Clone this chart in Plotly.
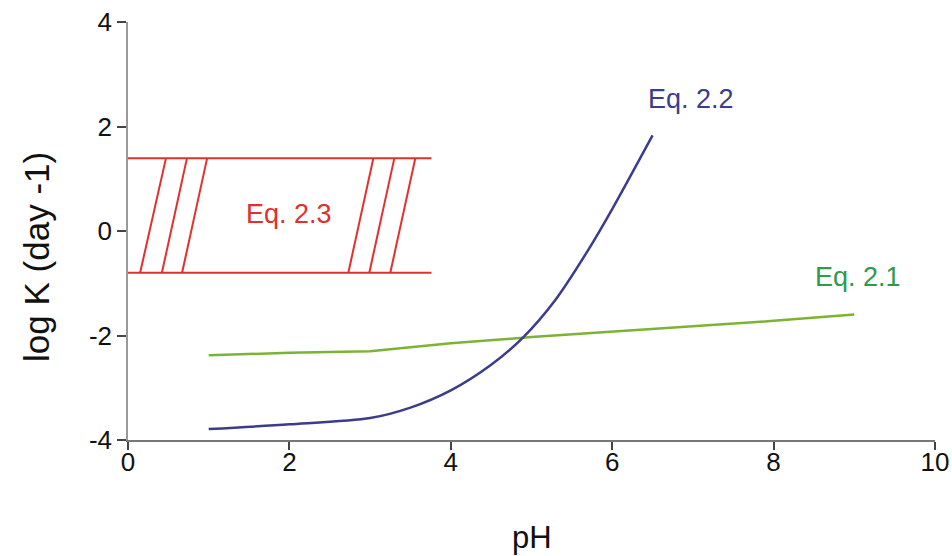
import plotly.graph_objects as go

# Eq. 2.2 (blue)
ph_22 = [1.0, 2.0, 3.0, 3.5, 4.0, 4.5, 4.9, 5.3, 5.7, 6.0, 6.5]
logk_22 = [-3.79, -3.70, -3.58, -3.38, -3.05, -2.56, -2.03, -1.31, -0.37, 0.42, 1.83]

# Eq. 2.1 (green)
ph_21 = [1.0, 2.0, 3.0, 4.0, 5.0, 6.0, 7.0, 8.0, 9.0]
logk_21 = [-2.38, -2.33, -2.30, -2.15, -2.03, -1.93, -1.83, -1.72, -1.60]

# Eq. 2.3 (red band)
band_x = [0.0, 3.76]
band_top = 1.39
band_bottom = -0.80
hatch_bottom_x = [0.15, 0.42, 0.67, 2.73, 2.99, 3.25]
hatch_top_x = [0.47, 0.73, 0.98, 3.04, 3.30, 3.56]

labels = ["Eq. 2.2", "Eq. 2.1", "Eq. 2.3"]
label_x = [6.98, 9.05, 1.99]
label_y = [2.52, -0.88, 0.33]

x_ticks = [0, 2, 4, 6, 8, 10]
x_ticktext = ["0", "2", "4", "6", "8", "10"]
y_ticks = [-4, -2, 0, 2, 4]
y_ticktext = ["-4", "-2", "0", "2", "4"]

BLUE = "#3b3b8f"
GREEN = "#7db334"
GREEN_TXT = "#2f9a4a"
RED = "#e2302c"
FONT = "Liberation Sans, Arial, sans-serif"
BLACK = "#111111"

fig = go.Figure()

# red band lines
rx, ry = [], []
for yv in (band_top, band_bottom):
    rx += [band_x[0], band_x[1], None]
    ry += [yv, yv, None]
for xb, xt in zip(hatch_bottom_x, hatch_top_x):
    rx += [xb, xt, None]
    ry += [band_bottom, band_top, None]
fig.add_trace(go.Scatter(x=rx, y=ry, mode="lines", line=dict(color=RED, width=2),
                         showlegend=False, hoverinfo="skip", cliponaxis=False))

fig.add_trace(go.Scatter(x=ph_21, y=logk_21, mode="lines",
                         line=dict(color=GREEN, width=2.5), showlegend=False))
fig.add_trace(go.Scatter(x=ph_22, y=logk_22, mode="lines",
                         line=dict(color=BLUE, width=2.5, shape="spline", smoothing=0.8),
                         showlegend=False))

colors = [BLUE, GREEN_TXT, RED]
for t, xv, yv, c in zip(labels, label_x, label_y, colors):
    fig.add_annotation(x=xv, y=yv, text=t, showarrow=False,
                       font=dict(family=FONT, size=27, color=c))

# axis titles as annotations for precise placement
fig.add_annotation(x=0, y=0.438, xref="paper", yref="paper", text="log K (day -1)",
                   textangle=-90, showarrow=False, xanchor="center", yanchor="middle",
                   xshift=-91, font=dict(family=FONT, size=35, color=BLACK))
fig.add_annotation(x=0.5, y=0, xref="paper", yref="paper", text="pH",
                   showarrow=False, xanchor="center", yanchor="middle",
                   yshift=-97, font=dict(family=FONT, size=31, color=BLACK))

fig.update_layout(
    width=952, height=556,
    margin=dict(l=128, r=17, t=22, b=116),
    plot_bgcolor="white", paper_bgcolor="white",
    font=dict(family=FONT, size=26, color=BLACK),
    xaxis=dict(range=[0, 10], tickvals=x_ticks, ticktext=x_ticktext,
               showgrid=False, zeroline=False, automargin=False,
               showline=True, linecolor="#777", linewidth=1.5,
               ticks="outside", ticklen=8, tickcolor="#444", tickwidth=1.5,
               ticklabelstandoff=-10, ticklabeloverflow="allow",
               tickfont=dict(size=26, color=BLACK)),
    yaxis=dict(range=[-4, 4], tickvals=y_ticks, ticktext=y_ticktext,
               showgrid=False, zeroline=False, automargin=False,
               showline=True, linecolor="#999", linewidth=1.5,
               ticks="outside", ticklen=9, tickcolor="#444", tickwidth=1.5,
               ticklabelstandoff=0, ticklabeloverflow="allow",
               tickfont=dict(size=26, color=BLACK)),
)

fig.write_html("out.html", config={"displayModeBar": False},
               post_script="document.body.style.margin='0';document.body.style.overflow='hidden';")
